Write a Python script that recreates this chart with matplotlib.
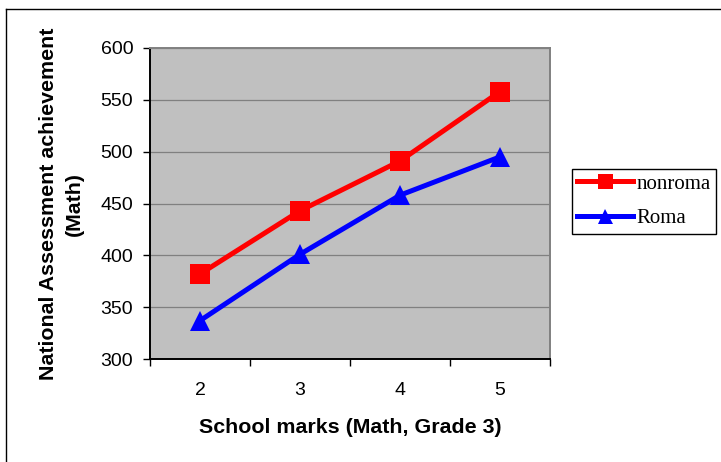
import matplotlib

matplotlib.use("Agg")
import matplotlib.pyplot as plt
from matplotlib.lines import Line2D

# School marks vs. national assessment score, by group
marks = [2, 3, 4, 5]
nonroma = [382, 443, 491, 558]
roma = [337, 401, 458, 495]
yticks = [300, 350, 400, 450, 500, 550, 600]

W, H = 721, 462
fig = plt.figure(figsize=(W / 100, H / 100), dpi=100)
fig.patch.set_facecolor("white")

# plot area in pixel coordinates
left, right, top, bottom = 150, 550, 48, 359
ax = fig.add_axes([left / W, 1 - bottom / H, (right - left) / W, (bottom - top) / H])
ax.set_facecolor("#C0C0C0")

ax.plot(marks, nonroma, "-s", color="#FF0000", lw=3.6, ms=14.4, mew=0, label="nonroma", zorder=3)
ax.plot(marks, roma, "-^", color="#0000FF", lw=3.6, ms=14.4, mew=0, label="Roma", zorder=3)

ax.set_xlim(1.5, 5.5)
ax.set_ylim(300, 600)
ax.set_yticks(yticks)
ax.yaxis.grid(True, color="#808080", lw=0.9)
ax.set_axisbelow(True)

# category axis: tick marks on boundaries, labels in the middle
ax.set_xticks([1.5, 2.5, 3.5, 4.5, 5.5])
ax.set_xticklabels([])
ax.set_xticks(marks, minor=True)
ax.set_xticklabels([str(m) for m in marks], minor=True)
ax.tick_params(axis="x", which="minor", length=0, pad=16.5, labelsize=14)
ax.tick_params(axis="x", which="major", direction="out", length=5, width=1, color="black")
ax.tick_params(axis="y", direction="out", length=5, width=1, color="black", pad=7, labelsize=14)
for lbl in ax.get_xticklabels(minor=True) + ax.get_yticklabels():
    lbl.set_family("Liberation Sans")

for side in ("left", "bottom"):
    ax.spines[side].set_color("black")
    ax.spines[side].set_linewidth(1.4)
for side in ("top", "right"):
    ax.spines[side].set_color("#808080")
    ax.spines[side].set_linewidth(1.4)

ax.set_xlabel("School marks (Math, Grade 3)", family="Liberation Sans",
              fontweight="bold", fontsize=15.4)
ax.xaxis.set_label_coords(0.5, -0.19)
ax.set_ylabel("National Assessment achievement\n(Math)", family="Liberation Sans",
              fontweight="bold", fontsize=15.4, linespacing=1.45)
ax.yaxis.set_label_coords(-0.165, 0.5)

leg = fig.legend(loc="upper left", bbox_to_anchor=(572 / W, 1 - 169 / H), borderaxespad=0,
                 prop={"family": "Liberation Serif", "size": 15}, markerscale=0.75,
                 handlelength=2.7, handletextpad=0.15, borderpad=0.25, labelspacing=0.72,
                 fancybox=False, framealpha=1, edgecolor="black")
leg.get_frame().set_linewidth(1.0)

# chart border
fig.add_artist(Line2D([6 / W, 1.0], [1 - 9 / H, 1 - 9 / H], color="black", lw=1.0,
                      transform=fig.transFigure))
fig.add_artist(Line2D([6 / W, 6 / W], [0.0, 1 - 9 / H], color="black", lw=1.0,
                      transform=fig.transFigure))

fig.savefig("out.png", dpi=100)
